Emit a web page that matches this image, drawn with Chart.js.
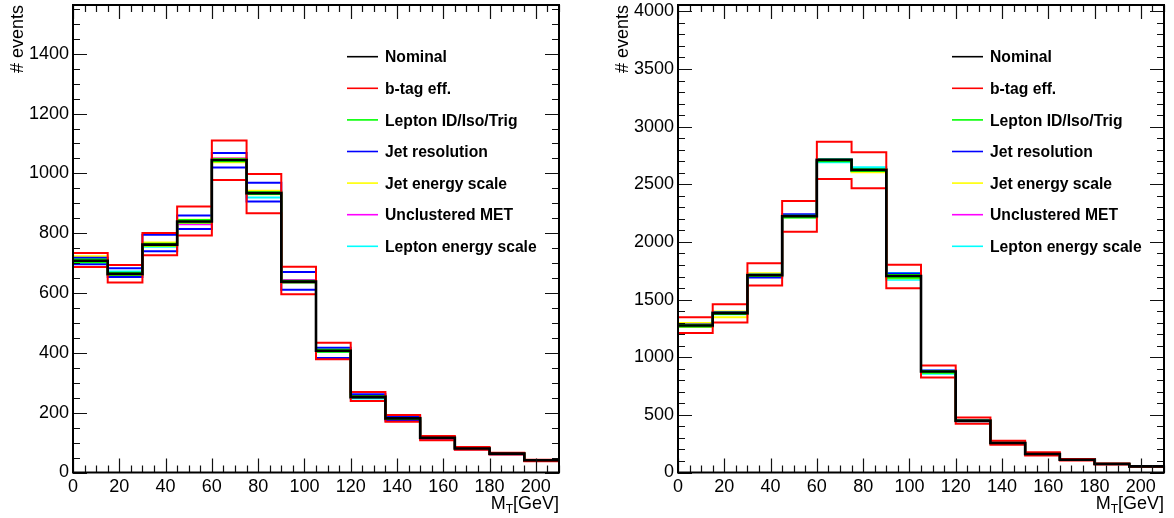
<!DOCTYPE html>
<html>
<head>
<meta charset="utf-8">
<script src="https://cdn.jsdelivr.net/npm/chart.js@4"></script>
<style>
body{margin:0;background:#fff;width:1174px;height:518px;overflow:hidden;position:relative}
canvas{position:absolute;top:0}
#cL{left:0}
#cR{left:590px}
</style>
</head>
<body>
<canvas id="cL" width="580" height="518"></canvas>
<canvas id="cR" width="584" height="518"></canvas>
<script>
/* ----- DATA ----- */
const binEdges=[0,15,30,45,60,75,90,105,120,135,150,165,180,195,210];
const xTicks=[0,20,40,60,80,100,120,140,160,180,200];
const leftYTicks=[0,200,400,600,800,1000,1200,1400];
const rightYTicks=[0,500,1000,1500,2000,2500,3000,3500,4000];
const legendNames=["Nominal","b-tag eff.","Lepton ID/Iso/Trig","Jet resolution","Jet energy scale","Unclustered MET","Lepton energy scale"];

// left panel
const leftNominal=[708,664,762,839,1045,934,638,407,253,181,116,80,63,41];
const leftBtagUp=[734,694,801,889,1110,998,688,434,269,192,122,85,66,43];
const leftBtagDown=[687,635,726,792,978,867,596,379,239,170,108,76,60,38];
const leftLepIdUp=[712,668,765,844,1047,937,641,410,255,182,117,81,64,41];
const leftLepIdDown=[703,661,759,836,1041,931,635,404,251,180,115,79,62,40];
const leftJerUp=[718,683,795,859,1068,969,670,417,262,187,119,82,64,42];
const leftJerDown=[696,654,740,814,1020,906,611,383,249,174,113,78,61,40];
const leftJesUp=[723,667,769,845,1049,942,640,409,255,182,117,81,64,41];
const leftJesDown=[706,659,757,835,1037,930,636,405,252,180,115,79,62,40];
const leftMetUp=[711,666,764,841,1051,936,644,408,254,182,116,80,63,41];
const leftMetDown=[705,662,760,830,1043,932,634,405,252,180,116,80,63,41];
const leftLepEsUp=[714,672,766,842,1048,938,641,410,256,183,117,81,64,41];
const leftLepEsDown=[702,660,755,836,1040,919,636,404,247,179,115,79,62,40];

// right panel
const rightNominal=[1275,1382,1711,2223,2711,2624,1705,876,449,256,160,111,74,53];
const rightBtagUp=[1347,1460,1815,2355,2869,2777,1801,928,477,276,175,118,79,57];
const rightBtagDown=[1209,1301,1622,2089,2546,2465,1599,824,423,241,148,104,69,49];
const rightLepIdUp=[1280,1386,1716,2228,2714,2630,1712,879,452,258,161,112,75,54];
const rightLepIdDown=[1266,1375,1705,2211,2700,2615,1690,866,446,254,159,110,73,52];
const rightJerUp=[1283,1390,1718,2240,2716,2632,1727,885,454,259,162,113,76,54];
const rightJerDown=[1268,1378,1691,2218,2704,2617,1700,872,445,253,158,109,73,52];
const rightJesUp=[1296,1396,1729,2230,2714,2630,1715,881,453,258,162,112,75,54];
const rightJesDown=[1262,1347,1700,2214,2702,2604,1685,868,445,254,158,110,73,52];
const rightMetUp=[1278,1385,1714,2227,2719,2628,1710,880,451,257,161,111,75,53];
const rightMetDown=[1272,1379,1708,2219,2706,2620,1698,872,447,255,159,110,74,53];
const rightLepEsUp=[1281,1388,1716,2229,2715,2647,1731,882,452,258,161,112,75,54];
const rightLepEsDown=[1265,1372,1704,2213,2691,2610,1671,856,445,253,158,109,73,52];

const lineColors=["#000000","#ff0000","#00ff00","#0000ff","#ffff00","#ff00ff","#00ffff"];
const FONT="'Liberation Sans', Arial, Helvetica, sans-serif";

/* ----- HELPERS ----- */
function histPoints(vals){
 return binEdges.map((x,i)=>({x:x,y:vals[Math.min(i,vals.length-1)]}));
}

function makeSets(nominal,variations){
 const sets=[{
  label:legendNames[0],
  data:histPoints(nominal),
  borderColor:lineColors[0],
  borderWidth:2.6
 }];
 variations.forEach((v,k)=>{
  v.forEach(vals=>{
   sets.push({
    label:legendNames[k+1],
    data:histPoints(vals),
    borderColor:lineColors[k+1],
    borderWidth:2
   });
  });
 });
 sets.forEach(s=>{
  s.stepped='before';
  s.pointRadius=0;
  s.fill=false;
  s.tension=0;
 });
 return sets;
}

/* ----- ROOT-like frame, ticks, legend, titles ----- */
const rootStyle={
 id:'rootStyle',
 afterDatasetsDraw(chart,args,o){
  const ctx=chart.ctx,a=chart.chartArea,xs=chart.scales.x,ys=chart.scales.y;
  const isMajor=(v,m)=>Math.abs(v/m-Math.round(v/m))<1e-6;
  ctx.save();
  ctx.strokeStyle='#111';
  ctx.lineWidth=1.2;
  ctx.beginPath();
  for(let v=0;v<=xs.max+1e-6;v+=o.xMinor){
   const px=Math.round(xs.getPixelForValue(v))+0.5;
   const len=isMajor(v,o.xMajor)?14:7;
   ctx.moveTo(px,a.bottom);ctx.lineTo(px,a.bottom-len);
   ctx.moveTo(px,a.top);ctx.lineTo(px,a.top+len);
  }
  for(let v=0;v<=ys.max+1e-6;v+=o.yMinor){
   const py=Math.round(ys.getPixelForValue(v))+0.5;
   const len=isMajor(v,o.yMajor)?14:7;
   ctx.moveTo(a.left,py);ctx.lineTo(a.left+len,py);
   ctx.moveTo(a.right,py);ctx.lineTo(a.right-len,py);
  }
  ctx.stroke();
  ctx.strokeStyle='#000';
  ctx.lineWidth=2;
  ctx.strokeRect(a.left,a.top,a.right-a.left,a.bottom-a.top);
  ctx.restore();
 },
 afterDraw(chart){
  const ctx=chart.ctx,a=chart.chartArea;
  ctx.save();
  // legend
  ctx.font="bold 15.7px "+FONT;
  ctx.textAlign='left';
  ctx.textBaseline='alphabetic';
  legendNames.forEach((name,i)=>{
   const yl=a.top+51.7+i*31.6;
   ctx.strokeStyle=lineColors[i];
   ctx.lineWidth=1.6;
   ctx.beginPath();
   ctx.moveTo(a.left+274,yl);ctx.lineTo(a.left+305,yl);
   ctx.stroke();
   ctx.fillStyle='#000';
   ctx.fillText(name,a.left+312,yl+5.6);
  });
  // y title
  ctx.font="18px "+FONT;
  ctx.fillStyle='#000';
  ctx.save();
  ctx.translate(a.left-50,a.top);
  ctx.rotate(-Math.PI/2);
  ctx.textAlign='right';
  ctx.fillText('# events',0,0);
  ctx.restore();
  // x title M_T[GeV]
  const yb=a.bottom+36.5;
  ctx.textAlign='left';
  ctx.font="18px "+FONT;
  const wM=ctx.measureText('M').width,wG=ctx.measureText('[GeV]').width;
  ctx.font="12px "+FONT;
  const wT=ctx.measureText('T').width;
  let x0=a.right-wM-wT-wG;
  ctx.font="18px "+FONT;
  ctx.fillText('M',x0,yb);
  ctx.font="12px "+FONT;
  ctx.fillText('T',x0+wM,yb+4);
  ctx.font="18px "+FONT;
  ctx.fillText('[GeV]',x0+wM+wT,yb);
  ctx.restore();
 }
};

function noPad(scale){
 scale.paddingTop=0;scale.paddingBottom=0;
 scale.paddingLeft=0;scale.paddingRight=0;
}

function makeChart(canvas,sets,yMax,yTicks,yMinor,axisWidth,rightPad){
 return new Chart(canvas,{
  type:'line',
  data:{datasets:sets},
  plugins:[rootStyle],
  options:{
   responsive:false,
   animation:false,
   events:[],
   layout:{padding:{left:0,right:rightPad,top:5,bottom:0}},
   plugins:{
    legend:{display:false},
    tooltip:{enabled:false},
    rootStyle:{xMinor:5,xMajor:xTicks[1],yMinor:yMinor,yMajor:yTicks[1]}
   },
   scales:{
    x:{
     type:'linear',min:0,max:210,
     grid:{display:false,drawTicks:false},
     border:{display:false},
     afterBuildTicks(s){s.ticks=xTicks.map(v=>({value:v}));},
     ticks:{padding:4,color:'#000',callback:v=>String(v),
      font:{family:FONT,size:18},maxRotation:0,autoSkip:false},
     afterFit(s){s.height=45.5;noPad(s);}
    },
    y:{
     type:'linear',min:0,max:yMax,
     grid:{display:false,drawTicks:false},
     border:{display:false},
     afterBuildTicks(s){s.ticks=yTicks.map(v=>({value:v}));},
     ticks:{padding:4,color:'#000',callback:v=>String(v),autoSkip:false,
      font:{family:FONT,size:18}},
     afterFit(s){s.width=axisWidth;noPad(s);}
    }
   }
  }
 });
}

/* ----- CHARTS ----- */
makeChart(document.getElementById('cL'),
 makeSets(leftNominal,[
  [leftBtagUp,leftBtagDown],
  [leftLepIdUp,leftLepIdDown],
  [leftJerUp,leftJerDown],
  [leftJesUp,leftJesDown],
  [leftMetUp,leftMetDown],
  [leftLepEsUp,leftLepEsDown]
 ]),1563,leftYTicks,50,73,21);

makeChart(document.getElementById('cR'),
 makeSets(rightNominal,[
  [rightBtagUp,rightBtagDown],
  [rightLepIdUp,rightLepIdDown],
  [rightJerUp,rightJerDown],
  [rightJesUp,rightJesDown],
  [rightMetUp,rightMetDown],
  [rightLepEsUp,rightLepEsDown]
 ]),4055,rightYTicks,100,88,10);
</script>
</body>
</html>
